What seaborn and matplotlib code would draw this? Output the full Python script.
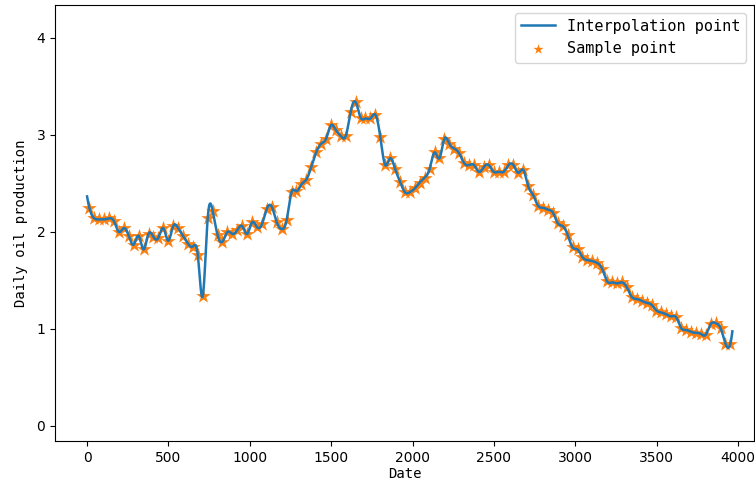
import numpy as np
import pandas as pd
import matplotlib
matplotlib.use("Agg")
import matplotlib.pyplot as plt
import seaborn as sns

DAY_START = 14
DAY_STEP = 30.3
production = [
    2.25, 2.14, 2.13, 2.13, 2.14, 2.11, 2.00, 2.04, 1.96, 1.87,
    1.96, 1.82, 1.98, 1.95, 1.94, 2.04, 1.91, 2.06, 2.04, 1.96,
    1.88, 1.85, 1.76, 1.34, 2.14, 2.22, 1.97, 1.90, 2.00, 1.98,
    2.02, 2.06, 1.98, 2.10, 2.05, 2.08, 2.24, 2.26, 2.10, 2.03,
    2.12, 2.41, 2.42, 2.49, 2.54, 2.67, 2.82, 2.91, 2.96, 3.10,
    3.05, 2.99, 2.99, 3.24, 3.34, 3.18, 3.17, 3.17, 3.21, 2.98,
    2.69, 2.76, 2.65, 2.52, 2.41, 2.41, 2.45, 2.51, 2.56, 2.65,
    2.82, 2.76, 2.96, 2.91, 2.86, 2.81, 2.71, 2.69, 2.69, 2.62,
    2.67, 2.69, 2.62, 2.62, 2.62, 2.69, 2.69, 2.61, 2.64, 2.47,
    2.38, 2.27, 2.25, 2.23, 2.20, 2.09, 2.06, 1.97, 1.84, 1.82,
    1.74, 1.71, 1.70, 1.68, 1.62, 1.49, 1.48, 1.47, 1.48, 1.43,
    1.33, 1.31, 1.29, 1.27, 1.25, 1.19, 1.17, 1.15, 1.13, 1.12,
    1.01, 0.99, 0.97, 0.96, 0.95, 0.94, 1.05, 1.06, 1.01, 0.85,
    0.85,
]
LINE_START, LINE_END = 0, 3965

x_ticks = [0, 500, 1000, 1500, 2000, 2500, 3000, 3500, 4000]
y_ticks = [0, 1, 2, 3, 4]


def cubic_spline(x, y, xq):
    """Not-a-knot cubic spline (same as interp1d kind='cubic'), extrapolating the end pieces."""
    x = np.asarray(x, float)
    y = np.asarray(y, float)
    n = len(x)
    h = np.diff(x)
    A = np.zeros((n, n))
    b = np.zeros(n)
    for i in range(1, n - 1):
        A[i, i - 1] = h[i - 1]
        A[i, i] = 2 * (h[i - 1] + h[i])
        A[i, i + 1] = h[i]
        b[i] = 6 * ((y[i + 1] - y[i]) / h[i] - (y[i] - y[i - 1]) / h[i - 1])
    A[0, 0], A[0, 1], A[0, 2] = h[1], -(h[0] + h[1]), h[0]
    A[-1, -3], A[-1, -2], A[-1, -1] = h[-1], -(h[-2] + h[-1]), h[-2]
    M = np.linalg.solve(A, b)

    idx = np.clip(np.searchsorted(x, xq) - 1, 0, n - 2)
    x0, x1 = x[idx], x[idx + 1]
    hh = x1 - x0
    return (M[idx] * (x1 - xq) ** 3 / (6 * hh)
            + M[idx + 1] * (xq - x0) ** 3 / (6 * hh)
            + (y[idx] / hh - M[idx] * hh / 6) * (x1 - xq)
            + (y[idx + 1] / hh - M[idx + 1] * hh / 6) * (xq - x0))


days = DAY_START + DAY_STEP * np.arange(len(production))
samples = pd.DataFrame({"Date": days, "Daily oil production": production})

dense_days = np.linspace(LINE_START, LINE_END, 2000)
curve = pd.DataFrame({
    "Date": dense_days,
    "Daily oil production": cubic_spline(days, production, dense_days),
})

fig = plt.figure(figsize=(7.55, 4.88), dpi=100)
ax = fig.add_axes([55 / 755, 47 / 488, 699 / 755, 436 / 488])

sns.lineplot(data=curve, x="Date", y="Daily oil production",
             color="#1f77b4", linewidth=1.8, label="Interpolation point", ax=ax)
sns.scatterplot(data=samples, x="Date", y="Daily oil production",
                color="#ff7f0e", marker="*", s=120, linewidth=0,
                label="Sample point", ax=ax)

ax.set_xlim(-197, 4098)
ax.set_ylim(-0.155, 4.34)
ax.set_xticks(x_ticks)
ax.set_yticks(y_ticks)
ax.tick_params(labelsize=10)

label_font = dict(family="DejaVu Sans Mono", size=10)
ax.set_xlabel("Date", fontdict=label_font, labelpad=2)
ax.set_ylabel("Daily oil production", fontdict=label_font, labelpad=6)

ax.legend(loc="upper right", prop={"family": "DejaVu Sans Mono", "size": 11},
          handlelength=2.2, borderaxespad=0.5, markerscale=0.7)

fig.savefig("out.png", dpi=100)
